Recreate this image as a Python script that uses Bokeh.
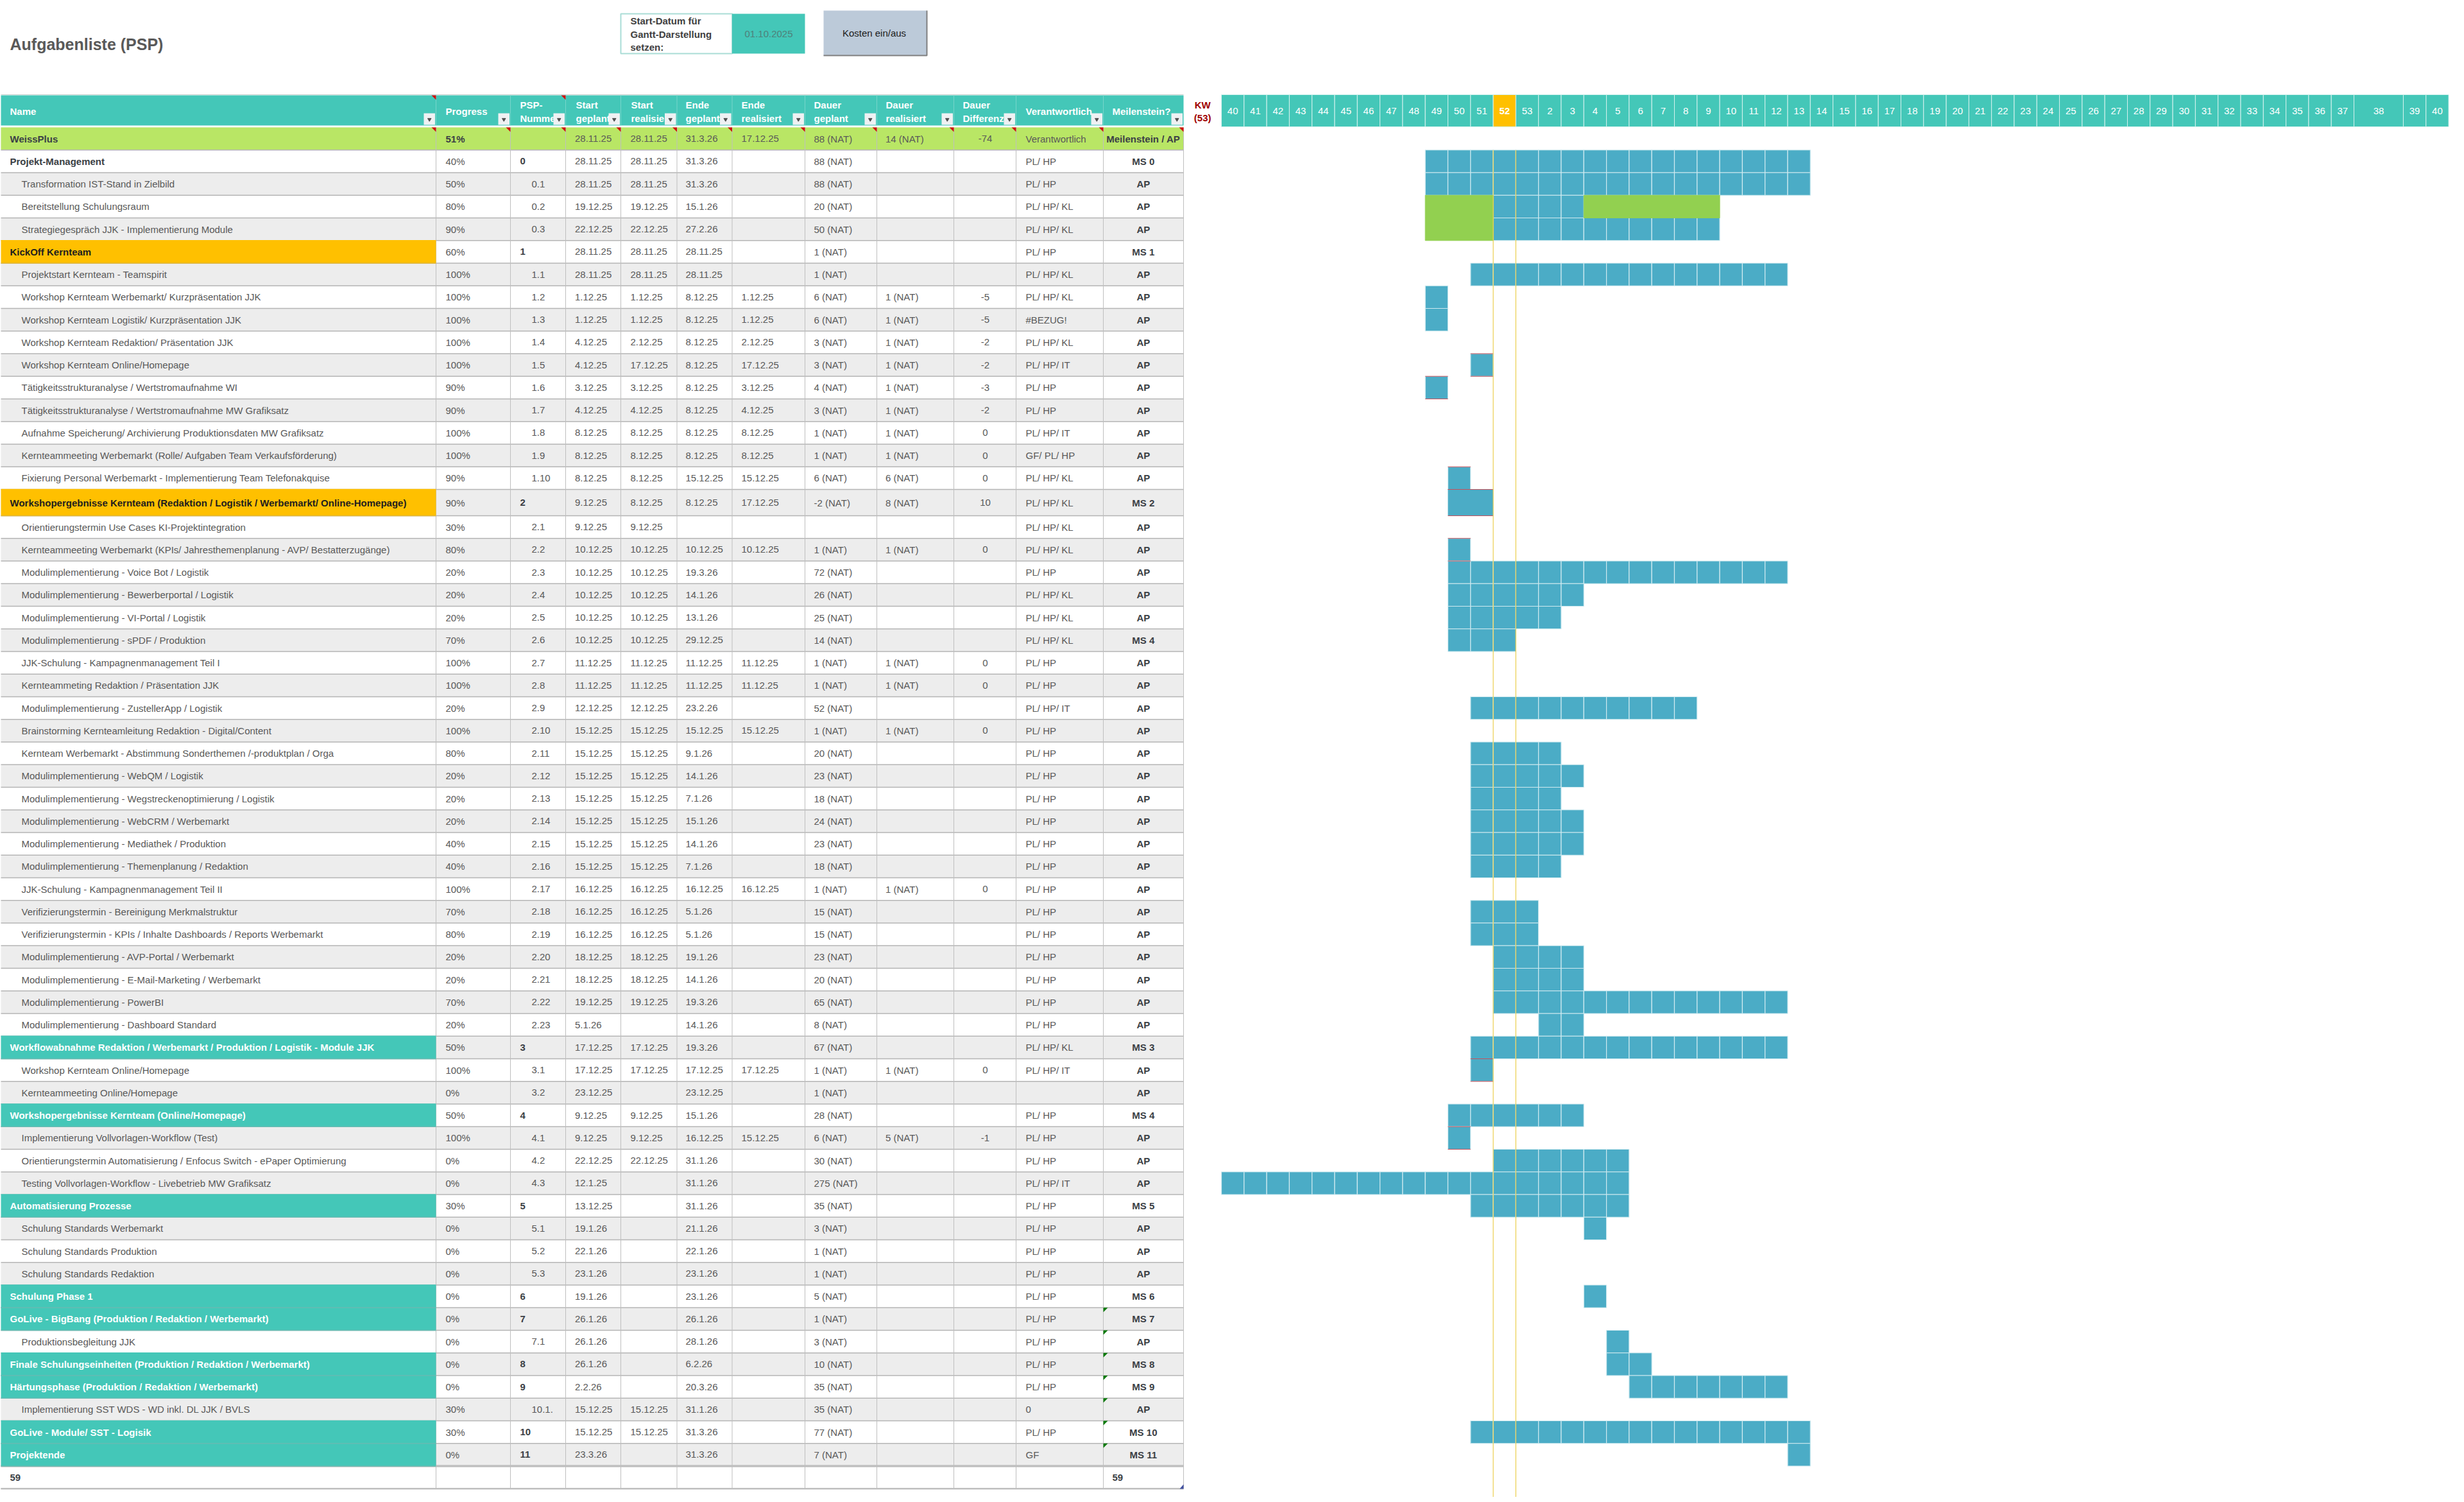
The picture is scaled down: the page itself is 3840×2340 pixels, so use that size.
# Aufgabenliste (PSP) - Excel-style task table with gantt weeks next to it
from bokeh.core.properties import value
from bokeh.embed import file_html
from bokeh.models import Range1d
from bokeh.plotting import figure
from bokeh.resources import INLINE

# table content, one list per column, one entry per row
names = ["WeissPlus", "Projekt-Management", "Transformation IST-Stand in Zielbild", "Bereitstellung Schulungsraum",
         "Strategiegespräch JJK - Implementierung Module", "KickOff Kernteam", "Projektstart Kernteam - Teamspirit",
         "Workshop Kernteam Werbemarkt/ Kurzpräsentation JJK", "Workshop Kernteam Logistik/ Kurzpräsentation JJK",
         "Workshop Kernteam Redaktion/ Präsentation JJK", "Workshop Kernteam Online/Homepage",
         "Tätigkeitsstrukturanalyse / Wertstromaufnahme WI", "Tätigkeitsstrukturanalyse / Wertstromaufnahme MW Grafiksatz",
         "Aufnahme Speicherung/ Archivierung Produktionsdaten MW Grafiksatz",
         "Kernteammeeting Werbemarkt (Rolle/ Aufgaben Team Verkaufsförderung)",
         "Fixierung Personal Werbemarkt - Implementierung Team Telefonakquise",
         "Workshopergebnisse Kernteam (Redaktion / Logistik / Werbemarkt/ Online-Homepage)",
         "Orientierungstermin Use Cases KI-Projektintegration",
         "Kernteammeeting Werbemarkt (KPIs/ Jahresthemenplanung - AVP/ Bestatterzugänge)",
         "Modulimplementierung - Voice Bot / Logistik", "Modulimplementierung - Bewerberportal / Logistik",
         "Modulimplementierung - VI-Portal / Logistik", "Modulimplementierung - sPDF / Produktion",
         "JJK-Schulung - Kampagnenmanagement Teil I", "Kernteammeting Redaktion / Präsentation JJK",
         "Modulimplementierung - ZustellerApp / Logistik", "Brainstorming Kernteamleitung Redaktion - Digital/Content",
         "Kernteam Werbemarkt - Abstimmung Sonderthemen /-produktplan / Orga", "Modulimplementierung - WebQM / Logistik",
         "Modulimplementierung - Wegstreckenoptimierung / Logistik", "Modulimplementierung - WebCRM / Werbemarkt",
         "Modulimplementierung - Mediathek / Produktion", "Modulimplementierung - Themenplanung / Redaktion",
         "JJK-Schulung - Kampagnenmanagement Teil II", "Verifizierungstermin - Bereinigung Merkmalstruktur",
         "Verifizierungstermin - KPIs / Inhalte Dashboards / Reports Werbemarkt", "Modulimplementierung - AVP-Portal / Werbemarkt",
         "Modulimplementierung - E-Mail-Marketing / Werbemarkt", "Modulimplementierung - PowerBI",
         "Modulimplementierung - Dashboard Standard", "Workflowabnahme Redaktion / Werbemarkt / Produktion / Logistik - Module JJK",
         "Workshop Kernteam Online/Homepage", "Kernteammeeting Online/Homepage", "Workshopergebnisse Kernteam (Online/Homepage)",
         "Implementierung Vollvorlagen-Workflow (Test)", "Orientierungstermin Automatisierung / Enfocus Switch - ePaper Optimierung",
         "Testing Vollvorlagen-Workflow - Livebetrieb MW Grafiksatz", "Automatisierung Prozesse", "Schulung Standards Werbemarkt",
         "Schulung Standards Produktion", "Schulung Standards Redaktion", "Schulung Phase 1",
         "GoLive - BigBang (Produktion / Redaktion / Werbemarkt)", "Produktionsbegleitung JJK",
         "Finale Schulungseinheiten (Produktion / Redaktion / Werbemarkt)", "Härtungsphase (Produktion / Redaktion / Werbemarkt)",
         "Implementierung SST WDS - WD inkl. DL JJK / BVLS", "GoLive - Module/ SST - Logisik", "Projektende", "59"]
progress = ["51%", "40%", "50%", "80%", "90%", "60%", "100%", "100%", "100%", "100%", "100%", "90%", "90%", "100%", "100%",
            "90%", "90%", "30%", "80%", "20%", "20%", "20%", "70%", "100%", "100%", "20%", "100%", "80%", "20%", "20%", "20%",
            "40%", "40%", "100%", "70%", "80%", "20%", "20%", "70%", "20%", "50%", "100%", "0%", "50%", "100%", "0%", "0%",
            "30%", "0%", "0%", "0%", "0%", "0%", "0%", "0%", "0%", "30%", "30%", "0%", ""]
psp = ["", "0", "0.1", "0.2", "0.3", "1", "1.1", "1.2", "1.3", "1.4", "1.5", "1.6", "1.7", "1.8", "1.9", "1.10", "2", "2.1",
       "2.2", "2.3", "2.4", "2.5", "2.6", "2.7", "2.8", "2.9", "2.10", "2.11", "2.12", "2.13", "2.14", "2.15", "2.16", "2.17",
       "2.18", "2.19", "2.20", "2.21", "2.22", "2.23", "3", "3.1", "3.2", "4", "4.1", "4.2", "4.3", "5", "5.1", "5.2", "5.3",
       "6", "7", "7.1", "8", "9", "10.1.", "10", "11", ""]
start_plan = ["28.11.25", "28.11.25", "28.11.25", "19.12.25", "22.12.25", "28.11.25", "28.11.25", "1.12.25", "1.12.25",
              "4.12.25", "4.12.25", "3.12.25", "4.12.25", "8.12.25", "8.12.25", "8.12.25", "9.12.25", "9.12.25", "10.12.25",
              "10.12.25", "10.12.25", "10.12.25", "10.12.25", "11.12.25", "11.12.25", "12.12.25", "15.12.25", "15.12.25",
              "15.12.25", "15.12.25", "15.12.25", "15.12.25", "15.12.25", "16.12.25", "16.12.25", "16.12.25", "18.12.25",
              "18.12.25", "19.12.25", "5.1.26", "17.12.25", "17.12.25", "23.12.25", "9.12.25", "9.12.25", "22.12.25", "12.1.25",
              "13.12.25", "19.1.26", "22.1.26", "23.1.26", "19.1.26", "26.1.26", "26.1.26", "26.1.26", "2.2.26", "15.12.25",
              "15.12.25", "23.3.26", ""]
start_real = ["28.11.25", "28.11.25", "28.11.25", "19.12.25", "22.12.25", "28.11.25", "28.11.25", "1.12.25", "1.12.25",
              "2.12.25", "17.12.25", "3.12.25", "4.12.25", "8.12.25", "8.12.25", "8.12.25", "8.12.25", "9.12.25", "10.12.25",
              "10.12.25", "10.12.25", "10.12.25", "10.12.25", "11.12.25", "11.12.25", "12.12.25", "15.12.25", "15.12.25",
              "15.12.25", "15.12.25", "15.12.25", "15.12.25", "15.12.25", "16.12.25", "16.12.25", "16.12.25", "18.12.25",
              "18.12.25", "19.12.25", "", "17.12.25", "17.12.25", "", "9.12.25", "9.12.25", "22.12.25", "",
              "", "", "", "", "", "", "", "", "", "15.12.25", "15.12.25", "", ""]
end_plan = ["31.3.26", "31.3.26", "31.3.26", "15.1.26", "27.2.26", "28.11.25", "28.11.25", "8.12.25", "8.12.25", "8.12.25",
            "8.12.25", "8.12.25", "8.12.25", "8.12.25", "8.12.25", "15.12.25", "8.12.25", "", "10.12.25", "19.3.26", "14.1.26",
            "13.1.26", "29.12.25", "11.12.25", "11.12.25", "23.2.26", "15.12.25", "9.1.26", "14.1.26", "7.1.26", "15.1.26",
            "14.1.26", "7.1.26", "16.12.25", "5.1.26", "5.1.26", "19.1.26", "14.1.26", "19.3.26", "14.1.26", "19.3.26",
            "17.12.25", "23.12.25", "15.1.26", "16.12.25", "31.1.26", "31.1.26", "31.1.26", "21.1.26", "22.1.26", "23.1.26",
            "23.1.26", "26.1.26", "28.1.26", "6.2.26", "20.3.26", "31.1.26", "31.3.26", "31.3.26", ""]
end_real = ["17.12.25", "", "", "", "", "", "", "1.12.25", "1.12.25", "2.12.25", "17.12.25", "3.12.25", "4.12.25", "8.12.25",
            "8.12.25", "15.12.25", "17.12.25", "", "10.12.25", "", "", "", "", "11.12.25", "11.12.25", "", "15.12.25", "", "",
            "", "", "", "", "16.12.25", "", "", "", "", "", "", "", "17.12.25", "", "", "15.12.25", "", "", "", "", "", "", "",
            "", "", "", "", "", "", "", ""]
dur_plan = ["88 (NAT)", "88 (NAT)", "88 (NAT)", "20 (NAT)", "50 (NAT)", "1 (NAT)", "1 (NAT)", "6 (NAT)", "6 (NAT)", "3 (NAT)",
            "3 (NAT)", "4 (NAT)", "3 (NAT)", "1 (NAT)", "1 (NAT)", "6 (NAT)", "-2 (NAT)", "", "1 (NAT)", "72 (NAT)", "26 (NAT)",
            "25 (NAT)", "14 (NAT)", "1 (NAT)", "1 (NAT)", "52 (NAT)", "1 (NAT)", "20 (NAT)", "23 (NAT)", "18 (NAT)", "24 (NAT)",
            "23 (NAT)", "18 (NAT)", "1 (NAT)", "15 (NAT)", "15 (NAT)", "23 (NAT)", "20 (NAT)", "65 (NAT)", "8 (NAT)", "67 (NAT)",
            "1 (NAT)", "1 (NAT)", "28 (NAT)", "6 (NAT)", "30 (NAT)", "275 (NAT)", "35 (NAT)", "3 (NAT)", "1 (NAT)", "1 (NAT)",
            "5 (NAT)", "1 (NAT)", "3 (NAT)", "10 (NAT)", "35 (NAT)", "35 (NAT)", "77 (NAT)", "7 (NAT)", ""]
dur_real = ["14 (NAT)", "", "", "", "", "", "", "1 (NAT)", "1 (NAT)", "1 (NAT)", "1 (NAT)", "1 (NAT)", "1 (NAT)", "1 (NAT)",
            "1 (NAT)", "6 (NAT)", "8 (NAT)", "", "1 (NAT)", "", "", "", "", "1 (NAT)", "1 (NAT)", "", "1 (NAT)", "", "", "", "",
            "", "", "1 (NAT)", "", "", "", "", "", "", "", "1 (NAT)", "", "", "5 (NAT)", "", "", "", "", "", "", "", "", "", "",
            "", "", "", "", ""]
dur_diff = ["-74", "", "", "", "", "", "", "-5", "-5", "-2", "-2", "-3", "-2", "0", "0", "0", "10", "", "0", "", "", "", "", "0",
            "0", "", "0", "", "", "", "", "", "", "0", "", "", "", "", "", "", "", "0", "", "", "-1", "", "", "", "", "", "", "",
            "", "", "", "", "", "", "", ""]
owner = ["Verantwortlich", "PL/ HP", "PL/ HP", "PL/ HP/ KL", "PL/ HP/ KL", "PL/ HP", "PL/ HP/ KL", "PL/ HP/ KL", "#BEZUG!",
         "PL/ HP/ KL", "PL/ HP/ IT", "PL/ HP", "PL/ HP", "PL/ HP/ IT", "GF/ PL/ HP", "PL/ HP/ KL", "PL/ HP/ KL", "PL/ HP/ KL",
         "PL/ HP/ KL", "PL/ HP", "PL/ HP/ KL", "PL/ HP/ KL", "PL/ HP/ KL", "PL/ HP", "PL/ HP", "PL/ HP/ IT", "PL/ HP", "PL/ HP",
         "PL/ HP", "PL/ HP", "PL/ HP", "PL/ HP", "PL/ HP", "PL/ HP", "PL/ HP", "PL/ HP", "PL/ HP", "PL/ HP", "PL/ HP", "PL/ HP",
         "PL/ HP/ KL", "PL/ HP/ IT", "", "PL/ HP", "PL/ HP", "PL/ HP", "PL/ HP/ IT", "PL/ HP", "PL/ HP", "PL/ HP", "PL/ HP",
         "PL/ HP", "PL/ HP", "PL/ HP", "PL/ HP", "PL/ HP", "0", "PL/ HP", "GF", ""]
milestone = ["Meilenstein / AP", "MS 0", "AP", "AP", "AP", "MS 1", "AP", "AP", "AP", "AP", "AP", "AP", "AP", "AP", "AP", "AP",
             "MS 2", "AP", "AP", "AP", "AP", "AP", "MS 4", "AP", "AP", "AP", "AP", "AP", "AP", "AP", "AP", "AP", "AP", "AP", "AP",
             "AP", "AP", "AP", "AP", "AP", "MS 3", "AP", "AP", "MS 4", "AP", "AP", "AP", "MS 5", "AP", "AP", "AP", "MS 6", "MS 7",
             "AP", "MS 8", "MS 9", "AP", "MS 10", "MS 11", ""]
total_count = "59"

col_titles = [["Name"], ["Progress"], ["PSP-", "Nummer"], ["Start", "geplant"], ["Start", "realisiert"], ["Ende", "geplant"],
              ["Ende", "realisiert"], ["Dauer", "geplant"], ["Dauer", "realisiert"], ["Dauer", "Differenz"],
              ["Verantwortlich"], ["Meilenstein?"]]

# calendar weeks of the gantt head, week 38 is a double wide column in the sheet
week_labels = ["40", "41", "42", "43", "44", "45", "46", "47", "48", "49", "50", "51", "52", "53", "2", "3", "4", "5", "6", "7",
               "8", "9", "10", "11", "12", "13", "14", "15", "16", "17", "18", "19", "20", "21", "22", "23", "24", "25", "26",
               "27", "28", "29", "30", "31", "32", "33", "34", "35", "36", "37", "38", "39", "40"]
week_widths = [1] * 50 + [2.18, 1, 1]

# gantt bars: table row, first week column, number of week columns
bar_row = [1, 2, 3, 4, 6, 7, 8, 10, 11, 15, 18, 19, 20, 21, 22, 25, 27, 28, 29, 30, 31, 32, 34, 35, 36, 37, 38, 39, 40, 41, 43,
           44, 45, 46, 47, 48, 51, 53, 54, 55, 57, 58]
bar_first = [9, 9, 12, 12, 11, 9, 9, 11, 9, 10, 10, 10, 10, 10, 10, 11, 11, 11, 11, 11, 11, 11, 11, 11, 12, 12, 12, 14, 11, 11,
             10, 10, 12, 0, 11, 16, 16, 17, 17, 18, 11, 25]
bar_weeks = [17, 17, 4, 10, 14, 1, 1, 1, 1, 1, 1, 15, 6, 5, 3, 10, 4, 5, 4, 5, 5, 4, 3, 3, 4, 4, 13, 2, 14, 1, 6, 1, 6, 18, 7, 1,
             1, 1, 2, 7, 15, 1]
# merged blocks without cell dividers (row 16 blue, rows 3/4 green)
merged_row = [16]
merged_first = [10]
merged_weeks = [2]
green_row = [3, 4, 3]
green_first = [9, 9, 16]
green_weeks = [3, 3, 6]
# rows whose bars got the red top/bottom border
red_rows = [10, 11, 15, 16, 18, 41, 44]
today_weeks = [12, 13]

# colours
TEAL = "#44C7B8"
BLUE = "#4BACC6"
GREEN_ROW = "#B9E665"
ORANGE = "#FFC000"
STRIPE = "#EDEDED"
TXT = "#595959"
TXT_BOLD = "#3B3F45"
FONT = value("Liberation Sans")
FS = value("15px")

# layout in screenshot pixels
col_edges = [1, 679, 795, 881, 967, 1054.5, 1140.5, 1254, 1366, 1486, 1583, 1719, 1844]
head_x = [15, 694, 810, 897, 983, 1068, 1155, 1268, 1380, 1500, 1598, 1733]
cell_x = [15, 694, 828, 895.5, 982, 1068, 1155, 1268, 1379.5, 1535, 1598, 1781.3]
row_edges = [198.0]
for i in range(len(names)):
    row_edges.append(row_edges[-1] + (41.0 if i == 16 else 35.25))
row_mid = [(row_edges[i] + row_edges[i + 1]) / 2 for i in range(len(names))]
week_x0, week_w = 1903, 35.3

# the figure fills the page from its top left corner, so data units here are screenshot pixels
p = figure(width=3832, height=2332, output_backend="svg", toolbar_location=None,
           x_range=Range1d(0, 3832), y_range=Range1d(2332, 0), x_axis_location=None, y_axis_location=None,
           min_border=0, outline_line_color=None, background_fill_color="white")
p.grid.visible = False
p.extra_x_ranges = {"weeks": Range1d(-week_x0 / week_w, (3832 - week_x0) / week_w)}


def texts(xs, ys, labels, color=TXT, bold=False, align="left", size=FS, x_range_name="default"):
    p.text(xs, ys, text=labels, text_color=color, text_font=FONT, text_font_size=size,
           text_font_style="bold" if bold else "normal", text_align=align, text_baseline="middle",
           x_range_name=x_range_name)


def is_group(i):
    return psp[i] != "" and "." not in psp[i]


# title and the two controls on top
texts([15], [68], ["Aufgabenliste (PSP)"], bold=True, size=value("25px"))
p.quad(left=[967], right=[1140.5], top=[21], bottom=[83], fill_color="white", line_color="#A9DDD6", line_width=2)
texts([982, 982, 982], [32, 53, 73], ["Start-Datum für", "Gantt-Darstellung", "setzen:"], color="#404040", bold=True)
p.quad(left=[1140.5], right=[1254], top=[21], bottom=[83], fill_color=TEAL, line_color=None)
texts([1197.5], [52], ["01.10.2025"], color="#4F807A", align="center")
p.quad(left=[1283], right=[1444], top=[16], bottom=[86], fill_color="#BCCAD9", line_color=None)
p.line([1283, 1444, 1444], [86, 86, 16], line_color="#7F7F7F", line_width=2)
texts([1362], [51], ["Kosten ein/aus"], color="#202020", align="center")

# table: stripes, lines, coloured cells
stripe_rows = [i for i in range(len(names)) if i % 2 == 0]
p.quad(left=col_edges[0], right=col_edges[-1], top=[row_edges[i] for i in stripe_rows],
       bottom=[row_edges[i + 1] for i in stripe_rows], fill_color=STRIPE, line_color=None)
p.quad(left=[col_edges[0]], right=[col_edges[-1]], top=[row_edges[0]], bottom=[row_edges[1]], fill_color=GREEN_ROW, line_color=None)
p.segment(x0=col_edges[0], x1=col_edges[-1], y0=row_edges[1:], y1=row_edges[1:], line_color="#B5B5B5", line_width=1.5)
p.segment(x0=col_edges[1:], x1=col_edges[1:], y0=row_edges[0], y1=row_edges[-1], line_color="#BFBFBF", line_width=1)
p.segment(x0=[col_edges[0]], x1=[col_edges[-1]], y0=[row_edges[-2]], y1=[row_edges[-2]], line_color="#BFBFBF", line_width=3.5)
p.segment(x0=[col_edges[0]], x1=[col_edges[-1]], y0=[row_edges[-1]], y1=[row_edges[-1]], line_color="#BFBFBF", line_width=2.5)

name_fill = [i for i in range(1, len(names)) if is_group(i) and i != 1]
p.quad(left=col_edges[0], right=col_edges[1], top=[row_edges[i] - 0.75 for i in name_fill],
       bottom=[row_edges[i + 1] + 0.75 for i in name_fill],
       fill_color=[ORANGE if i in (5, 16) else TEAL for i in name_fill], line_color=None)
# faint row borders stay visible through the coloured name cells
p.segment(x0=col_edges[0], x1=col_edges[1], y0=[row_edges[i + 1] for i in name_fill], y1=[row_edges[i + 1] for i in name_fill],
          line_color="#A6A6A6", line_alpha=0.35, line_width=1.5)

# header
p.quad(left=col_edges[0], right=col_edges[-1], top=[148], bottom=[195], fill_color=TEAL, line_color=None)
p.segment(x0=col_edges[0], x1=col_edges[-1], y0=[147], y1=[147], line_color="#C9CFCE", line_width=1)
p.segment(x0=col_edges[1:-1], x1=col_edges[1:-1], y0=148, y1=195, line_color="#76D5CA", line_width=1)
for c, title in enumerate(col_titles):
    if len(title) == 1:
        texts([head_x[c]], [173], title, color="white", bold=True)
    else:
        texts([head_x[c]] * 2, [163, 184], title, color="white", bold=True)
btn_right = [e - 1.5 for e in col_edges[1:]]
p.quad(left=[e - 17.5 for e in btn_right], right=btn_right, top=[176] * 12, bottom=[194] * 12, fill_color="#EFF1F3", line_color=None)
p.scatter([e - 8.75 for e in btn_right], [185.5] * 12, marker="inverted_triangle", size=5.5, color="#505050")

# cell texts
columns = [(progress, 1), (start_plan, 3), (start_real, 4), (end_plan, 5), (end_real, 6), (dur_plan, 7), (dur_real, 8), (owner, 10)]
for values, c in columns:
    rows = [i for i, v in enumerate(values) if v != "" and not (c == 1 and i == 0)]
    texts([cell_x[c]] * len(rows), [row_mid[i] for i in rows], [values[i] for i in rows])
texts([cell_x[1]], [row_mid[0]], [progress[0]], color=TXT_BOLD, bold=True)

plain = [i for i in range(len(names)) if not is_group(i) and i not in (0, 59)]
texts([33] * len(plain), [row_mid[i] for i in plain], [names[i] for i in plain])
groups = [i for i in range(len(names)) if is_group(i) or i in (0, 59)]
group_col = ["white" if is_group(i) and i not in (1, 5, 16) else ("#1E1E1E" if i in (5, 16) else TXT_BOLD) for i in groups]
texts([15] * len(groups), [row_mid[i] for i in groups], [names[i] for i in groups], color=group_col, bold=True)

psp_sub = [i for i in range(len(names)) if psp[i] != "" and not is_group(i)]
texts([cell_x[2]] * len(psp_sub), [row_mid[i] for i in psp_sub], [psp[i] for i in psp_sub])
psp_grp = [i for i in range(len(names)) if is_group(i)]
texts([810] * len(psp_grp), [row_mid[i] for i in psp_grp], [psp[i] for i in psp_grp], color=TXT_BOLD, bold=True)

diff_rows = [i for i, v in enumerate(dur_diff) if v != ""]
texts([cell_x[9]] * len(diff_rows), [row_mid[i] for i in diff_rows], [dur_diff[i] for i in diff_rows], align="center")
ms_rows = [i for i, v in enumerate(milestone) if v != ""]
texts([cell_x[11]] * len(ms_rows), [row_mid[i] for i in ms_rows], [milestone[i] for i in ms_rows], color=TXT_BOLD, bold=True, align="center")
texts([1733], [row_mid[59]], [total_count], color=TXT_BOLD, bold=True)


# little comment/handle corners of the sheet
def corner(xs_ys, color):
    p.patches([t[0] for t in xs_ys], [t[1] for t in xs_ys], fill_color=color, line_color=None)


corner([([e - 7, e, e], [148, 148, 155]) for e in (col_edges[1], col_edges[3])], "#D01010")
corner([([e - 7, e, e], [198, 198, 205]) for e in col_edges[1:]], "#D01010")
corner([([col_edges[11], col_edges[11] + 7, col_edges[11]], [row_edges[i], row_edges[i], row_edges[i] + 7]) for i in range(52, 59)], "#0B7A0B")
corner([([1844, 1844, 1838], [2312, 2319, 2319])], "#3F4FA0")

# KW head
texts([1873.7, 1873.7], [163, 183], ["KW", "(53)"], color="#A00000", bold=True, align="center")
week_left = [sum(week_widths[:i]) for i in range(len(week_widths))]
week_right = [week_left[i] + week_widths[i] for i in range(len(week_widths))]
p.quad(left=week_left, right=week_right, top=[147] * 53, bottom=[197] * 53,
       fill_color=[ORANGE if i == 12 else TEAL for i in range(53)], line_color="#D5F2EE", line_width=1, x_range_name="weeks")
week_mid = [(week_left[i] + week_right[i]) / 2 for i in range(53)]
norm_weeks = [i for i in range(53) if i != 12]
texts([week_mid[i] for i in norm_weeks], [172] * 52, [week_labels[i] for i in norm_weeks], color="white", align="center", x_range_name="weeks")
texts([week_mid[12]], [172], [week_labels[12]], color="white", bold=True, align="center", x_range_name="weeks")

# gantt cells
cell_left, cell_top, cell_bottom = [], [], []
for r, f, n in zip(bar_row, bar_first, bar_weeks):
    for k in range(n):
        cell_left.append(f + k)
        cell_top.append(row_edges[r])
        cell_bottom.append(row_edges[r + 1])
p.quad(left=cell_left, right=[c + 1 for c in cell_left], top=cell_top, bottom=cell_bottom, fill_color=BLUE,
       line_color="#CFEAF0", line_width=1.2, x_range_name="weeks")
p.quad(left=merged_first, right=[a + b for a, b in zip(merged_first, merged_weeks)], top=[row_edges[r] for r in merged_row],
       bottom=[row_edges[r + 1] for r in merged_row], fill_color=BLUE, line_color=None, x_range_name="weeks")
p.quad(left=green_first, right=[a + b for a, b in zip(green_first, green_weeks)], top=[row_edges[r] for r in green_row],
       bottom=[row_edges[r + 1] for r in green_row], fill_color="#92D050", line_color="#92D050", line_width=1, x_range_name="weeks")

all_row = bar_row + merged_row
all_first = bar_first + merged_first
all_weeks = bar_weeks + merged_weeks
for r in red_rows:
    k = all_row.index(r)
    a, b = all_first[k], all_first[k] + all_weeks[k]
    p.segment(x0=[a, a], x1=[b, b], y0=[row_edges[r], row_edges[r + 1]], y1=[row_edges[r], row_edges[r + 1]],
              line_color="#C8505A", line_width=1.2, x_range_name="weeks")

# today column lines
p.segment(x0=today_weeks, x1=today_weeks, y0=row_edges[1], y1=2332, line_color="#EBCF50", line_width=1.2, x_range_name="weeks")

open("out.html", "w").write(file_html(p, INLINE))
